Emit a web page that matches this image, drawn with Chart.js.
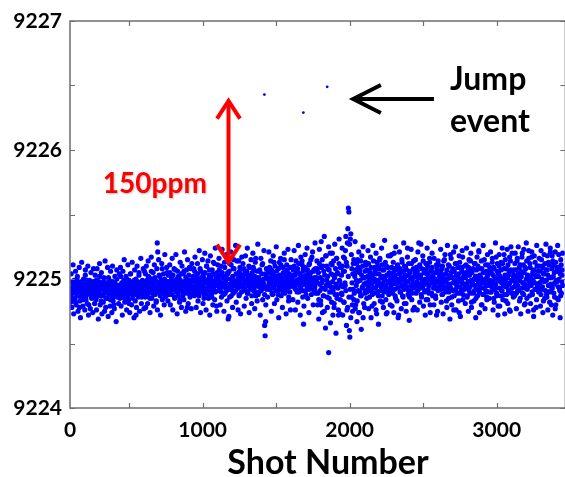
<!DOCTYPE html>
<html>
<head>
<meta charset="utf-8">
<script src="https://cdn.jsdelivr.net/npm/chart.js@4.4.0/dist/chart.umd.min.js"></script>
<style>
  html, body { margin: 0; padding: 0; background: #fff; overflow: hidden; }
  #wrap { width: 568px; height: 477px; }
</style>
</head>
<body>
<div id="wrap"><canvas id="scatterChart" width="568" height="477"></canvas></div>
<script>
// readings in hundredths above/below 9225, each row covers ROW_SPAN shots
const BASELINE = 9225;
const FIRST_SHOT = 100;
const ROW_SPAN = 167.5;
const shotRows = [
  [-7,-12,-2,-9,-15,-4,-8,-1,-11,-6,-18,-5,-9,0,-13,-7,-3,-10,-22,-6,-8,-14,-2,-9,-5,-12,-16,-4,-7,-10,3,-8,-13,-6,-1,-11,-9,-20,-5,-7,-3,-12,-8,-15,-6,-10,-2,-9,-13,-4],
  [-6,-10,-1,-14,-8,-3,-11,-5,-9,2,-12,-7,-17,-4,-8,-13,-6,-2,-10,-25,-5,-9,-15,-3,-7,-11,-6,1,-12,-8,-4,-16,-9,-5,-10,-2,-14,-7,-20,-6,-3,-11,-8,-13,0,-9,-5,-12,-7,-10],
  [-5,-9,2,-12,-6,-14,-3,-8,-1,-11,-7,-16,-4,-10,0,-6,-13,-8,-2,-19,-5,-9,4,-11,-7,-3,-15,-6,-10,-1,-8,-12,-4,-28,-6,-9,-2,-13,-5,5,-7,-11,-3,-9,-14,-6,-1,-10,-8,-4],
  [-3,-8,4,-10,-5,-1,-13,-6,2,-9,-4,-15,-2,-7,6,-11,-3,-8,0,-12,-5,1,-9,-6,-17,-2,28,21,-7,-10,3,-4,-13,-8,-1,-6,8,-11,-3,-9,-5,0,-14,-7,-2,-10,5,-6,-12,-4],
  [-2,-7,5,-9,-4,1,-12,-6,3,-8,-1,-14,-5,7,-3,-10,0,-6,-11,2,-4,-8,-16,-1,-7,4,-9,-3,-13,-5,6,-2,-10,-6,1,-8,-4,-22,-1,-9,3,-5,-12,-3,8,-7,-2,-11,0,-6],
  [-1,-6,6,-9,-3,2,-11,-5,4,-7,0,-13,-4,8,-2,-8,1,-10,-5,3,-6,-15,-1,5,-9,-3,10,-7,-2,-12,0,-5,7,-4,-9,2,-1,-14,-6,4,-3,-8,12,-2,-10,1,-5,-25,-1,3],
  [0,-5,7,-8,-2,3,-10,-4,5,-6,1,-12,-3,9,-1,-7,2,-9,-4,4,-31,-5,6,-14,0,-8,11,-3,-6,2,-11,-1,8,-5,-2,-9,4,-4,14,-7,1,-3,-13,6,-1,-6,3,-10,0,-4],
  [2,-4,8,-7,-1,4,-9,-3,6,-11,1,-5,10,-2,-8,3,-6,0,-13,5,-4,9,-1,-7,2,-10,16,-3,-5,6,-2,-12,1,-6,7,-4,-1,-9,4,-3,12,-7,0,-5,-36,-44,-33,3,-8,1],
  [0,-6,5,-3,9,-8,1,-4,7,-11,-1,4,-7,13,-2,-5,2,-9,6,-3,0,-12,8,-1,-6,3,-4,11,-8,1,-2,-10,5,-5,15,-3,-7,2,-1,-9,7,-4,0,-14,4,-6,9,-2,-5,1],
  [1,-4,7,-2,10,-6,3,-8,5,-1,-10,8,-3,12,0,-5,4,-7,2,-2,14,-9,6,-35,1,-4,9,-1,-12,3,-6,7,0,-3,11,-8,2,-5,5,-1,17,-4,-2,6,-9,1,-6,8,-3,0],
  [-2,8,-11,5,-16,12,-4,1,-20,9,-7,15,-1,-13,6,-25,3,-8,18,-5,10,-14,2,-3,-57,7,-10,20,-6,4,-18,11,-2,-9,14,-22,1,-12,8,-4,16,-15,5,-7,-28,12,-1,-27,9,-5],
  [3,-12,10,-6,17,-18,6,-3,22,-9,13,-24,28,39,55,52,-40,-45,31,35,-14,8,-20,4,-8,15,-11,2,-23,7,-5,12,-17,-2,9,-26,5,-10,-1,14,-13,3,-7,10,-30,1,-4,-22,6,-9],
  [-3,7,-10,2,-6,12,-1,-14,5,-8,9,-4,-21,3,-2,14,-11,0,6,-7,-24,4,-5,10,-1,-13,8,-3,16,-9,1,-6,11,-18,2,-4,7,-10,0,13,-5,-27,3,-8,9,-2,-12,5,-1,18],
  [-6,2,9,-4,-11,5,-1,20,-8,3,-15,7,-3,0,11,-7,-28,4,-2,8,-10,1,-5,13,-13,6,-1,-8,10,-4,2,-19,7,-6,24,-2,-9,3,-14,5,0,-5,12,-11,1,-3,8,-7,-22,4],
  [2,-5,9,-2,6,-9,1,28,-4,11,-7,3,-12,8,-1,-6,14,-3,5,-10,0,7,-16,4,-2,10,-8,1,-5,13,-20,6,-1,-11,9,-3,2,-7,16,-4,0,-13,5,-28,8,-2,-9,11,-6,3],
  [-1,6,-8,3,-12,10,-3,1,-6,15,-9,4,-2,-17,7,0,-5,11,-10,2,-4,19,-7,5,-14,1,8,-3,-24,6,-1,12,-8,3,-5,-11,9,-2,4,-26,13,-6,0,-9,7,-3,17,-12,2,-4],
  [4,-7,1,11,-4,-13,6,-2,9,-9,3,-6,14,-1,-18,5,-3,8,-11,0,12,-5,2,-15,7,-8,-1,10,-4,21,-10,3,-6,1,-20,8,-2,-12,5,-7,15,-3,0,-9,6,-14,2,11,-5,-1],
  [-4,9,-1,-10,5,-6,13,-2,3,-15,8,-8,1,-4,17,-11,6,-1,-21,4,10,-7,2,-13,7,-3,-9,12,0,-5,19,-12,3,-2,-17,8,-6,1,11,-9,5,-24,-3,14,25,-1,-7,6,-11,2],
  [3,-6,12,-2,7,-11,1,16,-5,4,-9,9,-1,-15,6,2,-7,20,-3,11,-12,5,-4,-19,8,0,14,-8,3,-6,22,-2,-13,9,1,-5,17,-10,4,-1,-24,7,-3,13,-8,2,-16,10,-4,6],
  [2,-8,10,-3,6,-12,15,0,-6,9,-17,4,-2,12,-9,7,-1,-14,18,3,-5,11,-10,1,21,-4,-20,8,-7,14,2,-11,5,-3,-23,13,-1,9,-15,6,-6,19,0,-9,4,-13,11,-2,7,-5]
];
// the looser halo of readings round the core, same shot windows
const shotRowsWide = [
  [-18,4,-22,-9,11,-27,-2,-15,6,-20,-11,2,-25,-6,9,-17,-30,-4,13,-13,-21,0,-8,-24,7,-16,-3,-19,10,-28,-10,-1,-23,5,-14,-7,-26,8,-12,-19],
  [3,-16,-24,8,-9,-31,-2,12,-20,-13,5,-27,-7,-18,1,-11,14,-22,-4,-15,9,-29,-8,-1,-21,6,-12,-26,10,-17,-3,-23,2,-10,-33,7,-14,-5,-19,4],
  [-15,9,-21,-3,-28,6,-12,15,-18,-7,2,-24,-10,11,-16,-1,-26,4,-8,-20,13,-13,-5,-30,7,-17,0,-22,10,-9,-14,3,-25,-6,16,-19,-2,-11,8,-23],
  [6,-14,-22,10,-5,-19,14,-10,1,-26,-3,17,-15,-8,5,-21,11,-12,-1,-18,8,-24,-6,15,-11,2,-28,-4,12,-16,-9,4,-20,19,-7,-13,9,-2,-17,3],
  [-12,11,-20,3,-7,16,-24,-2,8,-15,-9,19,-4,-27,6,-13,1,-18,13,-6,-22,10,-10,4,-16,21,-3,-25,7,-11,15,-19,-1,9,-14,-5,-23,12,-8,2],
  [8,-13,17,-6,-22,4,12,-17,-1,22,-10,-26,6,-4,15,-19,1,-12,20,-8,-24,10,-3,14,-15,3,-28,18,-7,-11,7,-20,13,-2,-16,24,-5,-21,5,11],
  [-9,16,-3,-20,10,-14,23,-6,2,-25,13,-11,-1,19,-17,5,-8,-29,12,-4,21,-13,0,-22,8,15,-10,-2,26,-18,4,-7,-24,14,-12,9,-27,1,17,-5],
  [12,-7,-21,5,18,-15,-1,24,-11,3,-26,9,-5,15,-19,-2,20,-9,7,-23,13,-13,1,-17,27,-4,-10,6,-28,16,-8,11,-16,-3,22,-12,4,-20,8,-6],
  [-14,7,21,-8,-2,14,-25,4,-12,18,-5,-19,10,-1,25,-16,2,-9,-30,13,-6,16,-13,0,-22,9,-3,20,-11,5,-27,11,-7,23,-17,1,-10,-24,15,-4],
  [9,-16,3,22,-7,-24,14,-3,6,-18,26,-10,0,-28,17,-5,11,-14,8,-21,2,19,-9,-1,24,-15,5,-26,12,-6,15,-12,-2,21,-20,7,-8,28,-11,1],
  [14,-20,5,-31,23,-9,-17,29,-3,-26,10,-13,33,-7,-38,18,-1,-22,8,25,-15,-5,-34,12,-10,20,-28,3,-19,27,-6,-42,16,-12,4,-24,31,-2,-16,9],
  [-11,24,-28,6,-18,16,-5,33,-36,10,-22,2,-14,27,-8,-30,19,-3,-25,12,-16,4,29,-20,-1,-33,15,-9,21,-26,7,-13,-39,18,-6,25,-19,1,-11,13],
  [11,-15,-4,22,-23,6,-9,17,-30,1,-12,26,-7,-19,9,-2,20,-27,13,-10,-35,4,15,-17,-5,24,-13,7,-22,-1,30,-8,-16,10,-26,3,18,-11,-3,-20],
  [-8,19,-21,2,13,-26,8,-13,25,-4,-17,10,-30,-1,21,-10,5,-23,15,-6,-14,28,-19,3,9,-25,-2,17,-12,12,-32,6,-9,23,-16,0,-24,14,-5,7],
  [15,-11,4,-24,21,-6,10,-18,1,27,-14,-3,18,-21,7,-9,-28,12,-4,24,-16,3,-11,16,-26,8,-1,20,-13,5,-20,29,-7,-15,11,-2,-25,14,-8,2],
  [-4,23,-18,8,-12,-27,14,-2,19,-10,4,-22,26,-7,-15,10,-31,1,16,-20,6,-9,21,-13,-3,25,-24,12,-6,2,-17,18,-11,-29,9,-1,22,-16,5,-8],
  [10,-19,-6,24,-14,3,-25,15,-2,-11,20,-22,7,-4,27,-17,-9,12,-30,2,17,-13,-1,22,-26,8,-7,14,-20,-3,26,-12,5,-23,11,-5,-16,19,-10,4],
  [-15,6,21,-10,-3,16,-24,9,-18,1,28,-7,-13,12,-28,4,19,-21,-2,13,-9,24,-16,0,8,-27,15,-6,-12,23,-19,3,-4,17,-25,7,-11,20,-1,-14],
  [7,-13,20,-4,-23,14,-9,25,-1,-17,11,-27,5,17,-11,-3,23,-20,9,-7,28,-15,2,-25,16,-5,12,-19,-1,21,-12,6,-29,18,-8,3,-22,26,-6,10],
  [-10,16,-3,-21,22,-8,10,-26,4,19,-15,-1,27,-12,7,-24,13,-5,-18,24,-9,1,18,-28,11,-4,-14,21,-20,6,-2,26,-16,9,-7,-30,15,-11,3,20]
];

// the three isolated jump readings
const jumpShots = [1420, 1685, 1847];
const jumpValues = [9226.43, 9226.29, 9226.49];

const X_MIN = 98, X_MAX = 3467;
const xTickValues = [98, 500, 1000, 1500, 2000, 2500, 3000];
const xTickLabels = ["0", "", "1000", "", "2000", "", "3000"];
const yTickValues = [9224, 9225, 9226, 9227];
const yTickLabels = ["9224", "9225", "9226", "9227"];
const yMinorTicks = [9224.5, 9225.5, 9226.5];

const points = [];
[shotRows, shotRowsWide].forEach(rows => {
  rows.forEach((row, r) => {
    row.forEach((v, j) => {
      points.push({ x: FIRST_SHOT + r * ROW_SPAN + (j + 0.5) * ROW_SPAN / row.length, y: BASELINE + v / 100 });
    });
  });
});
const jumpPoints = jumpShots.map((s, i) => ({ x: s, y: jumpValues[i] }));

function arrowHead(ctx, tx, ty, fx, fy, len, ang) {
  const a = Math.atan2(ty - fy, tx - fx);
  ctx.beginPath();
  ctx.moveTo(tx - len * Math.cos(a - ang), ty - len * Math.sin(a - ang));
  ctx.lineTo(tx, ty);
  ctx.lineTo(tx - len * Math.cos(a + ang), ty - len * Math.sin(a + ang));
  ctx.stroke();
}

const framePlugin = {
  id: "frame",
  afterDatasetsDraw(chart) {
    const { ctx, chartArea: a, scales: { x, y } } = chart;
    ctx.save();
    ctx.strokeStyle = "#6e6e6e";
    ctx.lineWidth = 1.5;
    ctx.strokeRect(a.left, a.top, a.right - a.left, a.bottom - a.top);
    ctx.lineWidth = 1.2;
    ctx.beginPath();
    xTickValues.slice(1).forEach(v => {
      const px = Math.round(x.getPixelForValue(v)) + 0.5;
      ctx.moveTo(px, a.bottom); ctx.lineTo(px, a.bottom - 5);
      ctx.moveTo(px, a.top); ctx.lineTo(px, a.top + 5);
    });
    yTickValues.concat(yMinorTicks).forEach(v => {
      const py = Math.round(y.getPixelForValue(v)) + 0.5;
      ctx.moveTo(a.left, py); ctx.lineTo(a.left + 5, py);
      ctx.moveTo(a.right, py); ctx.lineTo(a.right - 5, py);
    });
    ctx.stroke();
    ctx.restore();
  },
  afterDraw(chart) {
    const { ctx, scales: { x, y } } = chart;
    ctx.save();
    // red double arrow
    const ax = x.getPixelForValue(1176);
    const aTop = y.getPixelForValue(9226.38), aBot = y.getPixelForValue(9225.13);
    ctx.strokeStyle = "#ff0000";
    ctx.lineWidth = 4;
    ctx.lineJoin = "miter";
    ctx.beginPath();
    ctx.moveTo(ax, aTop + 2); ctx.lineTo(ax, aBot - 2);
    ctx.stroke();
    arrowHead(ctx, ax, aTop, ax, aBot, 21, 0.58);
    arrowHead(ctx, ax, aBot, ax, aTop, 21, 0.58);

    // black arrow pointing at the jumps
    const bTail = x.getPixelForValue(2573), bTip = x.getPixelForValue(2024);
    const by = y.getPixelForValue(9226.395);
    ctx.strokeStyle = "#000";
    ctx.beginPath();
    ctx.moveTo(bTail, by); ctx.lineTo(bTip + 2, by);
    ctx.stroke();
    arrowHead(ctx, bTip, by, bTail, by, 31, 0.47);

    // text
    ctx.textAlign = "center";
    ctx.textBaseline = "alphabetic";
    ctx.font = "bold 28px Lato";
    ctx.shadowColor = "rgba(0,0,0,0.25)";
    ctx.shadowOffsetX = 1; ctx.shadowOffsetY = 1; ctx.shadowBlur = 2;
    ctx.fillStyle = "#ff0000";
    ctx.fillText("150ppm", x.getPixelForValue(675), 193);
    ctx.shadowColor = "transparent";
    ctx.textAlign = "left";
    ctx.fillStyle = "#000";
    ctx.font = "bold 32px Lato";
    ctx.fillText("Jump", 450, 90);
    ctx.fillText("event", 450, 132);
    ctx.textAlign = "center";
    ctx.font = "bold 34px Lato";
    ctx.fillText("Shot Number", 328, 474);
    ctx.restore();
  }
};

new Chart(document.getElementById("scatterChart"), {
  type: "scatter",
  data: {
    datasets: [
      { data: points, backgroundColor: "#0000ff", pointRadius: 2.6, pointBorderWidth: 0, pointHoverRadius: 0 },
      { data: jumpPoints, backgroundColor: "#0000ff", pointRadius: 1.4, pointBorderWidth: 0, pointHoverRadius: 0 }
    ]
  },
  options: {
    responsive: false,
    animation: false,
    events: [],
    layout: { padding: { top: 21, right: 1, left: 0, bottom: 0 } },
    plugins: { legend: { display: false }, tooltip: { enabled: false } },
    scales: {
      x: {
        type: "linear",
        min: X_MIN,
        max: X_MAX,
        afterBuildTicks: s => { s.ticks = xTickValues.map(v => ({ value: v })); },
        afterFit: s => { s.height = 69; },
        grid: { display: false, drawTicks: false },
        border: { display: false },
        ticks: {
          autoSkip: false,
          maxRotation: 0,
          padding: 10,
          color: "#000",
          font: { family: "Lato", weight: "bold", size: 21 },
          callback: (v) => xTickLabels[xTickValues.indexOf(v)]
        }
      },
      y: {
        min: 9224,
        max: 9227,
        afterBuildTicks: s => { s.ticks = yTickValues.map(v => ({ value: v })); },
        afterFit: s => { s.width = 70; },
        grid: { display: false, drawTicks: false },
        border: { display: false },
        ticks: {
          padding: 8,
          color: "#000",
          font: { family: "Lato", weight: "bold", size: 21 },
          callback: (v) => yTickLabels[yTickValues.indexOf(v)]
        }
      }
    }
  },
  plugins: [framePlugin]
});
</script>
</body>
</html>
